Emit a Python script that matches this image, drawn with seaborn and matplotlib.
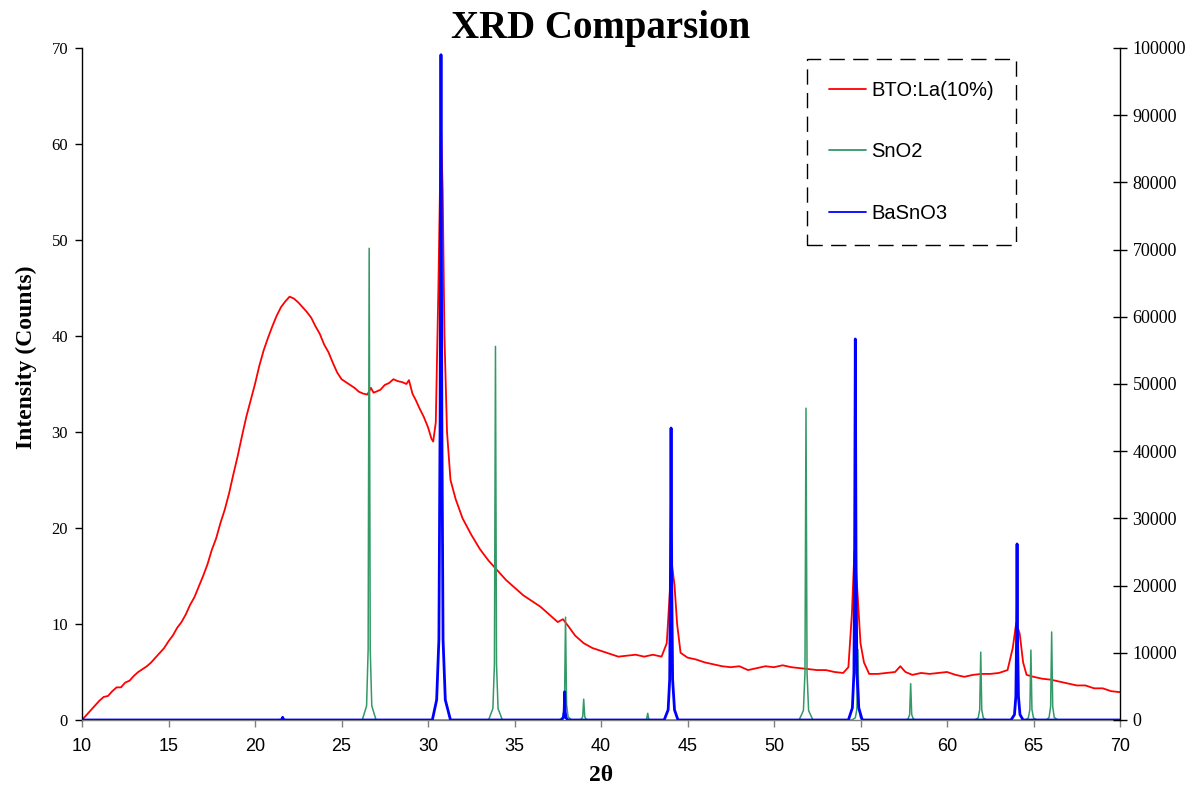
import matplotlib
matplotlib.use("Agg")
import matplotlib.pyplot as plt
import seaborn as sns
import pandas as pd

# ---------------- data ----------------
bto_x = [10.0, 10.25, 10.5, 10.75, 11.0, 11.25, 11.5, 11.75, 12.0, 12.25, 12.5, 12.75,
         13.0, 13.25, 13.5, 13.75, 14.0, 14.25, 14.5, 14.75, 15.0, 15.25, 15.5, 15.75,
         16.0, 16.25, 16.5, 16.75, 17.0, 17.25, 17.5, 17.75, 18.0, 18.25, 18.5, 18.75,
         19.0, 19.25, 19.5, 19.75, 20.0, 20.25, 20.5, 20.75, 21.0, 21.25, 21.5, 21.75,
         22.0, 22.25, 22.5, 22.75, 23.0, 23.25, 23.5, 23.75, 24.0, 24.25, 24.5, 24.75,
         25.0, 25.25, 25.5, 25.75, 26.0, 26.25, 26.5, 26.7, 26.85, 27.0, 27.25, 27.5,
         27.75, 28.0, 28.25, 28.5, 28.75, 28.9, 29.1, 29.3, 29.5, 29.75, 30.0, 30.2,
         30.3, 30.45, 30.6, 30.75, 30.85, 30.95, 31.1, 31.3, 31.6, 32.0, 32.5, 33.0,
         33.5, 34.0, 34.5, 35.0, 35.5, 36.0, 36.5, 37.0, 37.5, 37.8, 38.1, 38.5, 39.0, 39.5,
         40.0, 40.5, 41.0, 41.5, 42.0, 42.5, 43.0, 43.5, 43.8, 44.0, 44.1, 44.25, 44.4, 44.6,
         45.0, 45.5, 46.0, 46.5, 47.0, 47.5, 48.0, 48.5, 49.0, 49.5, 50.0, 50.5, 51.0, 51.5,
         52.0, 52.5, 53.0, 53.5, 54.0, 54.3, 54.5, 54.65, 54.8, 55.0, 55.2, 55.5, 56.0, 56.5,
         57.0, 57.3, 57.6, 58.0, 58.5, 59.0, 59.5, 60.0, 60.5, 61.0, 61.5, 62.0, 62.5, 63.0,
         63.5, 63.8, 64.0, 64.2, 64.4, 64.6, 65.0, 65.5, 66.0, 66.5, 67.0, 67.5, 68.0, 68.5,
         69.0, 69.5, 70.0]
bto_y = [0.0, 0.5, 1.0, 1.5, 2.0, 2.4, 2.5, 3.0, 3.4, 3.4, 3.9, 4.1,
         4.6, 5.0, 5.3, 5.6, 6.0, 6.5, 7.0, 7.5, 8.2, 8.8, 9.6, 10.2,
         11.0, 12.0, 12.8, 13.9, 15.0, 16.2, 17.7, 18.9, 20.5, 21.9, 23.6, 25.6,
         27.5, 29.6, 31.6, 33.3, 35.0, 36.9, 38.5, 39.8, 41.0, 42.1, 43.0, 43.6,
         44.1, 43.9, 43.5, 43.0, 42.5, 41.9, 41.0, 40.2, 39.1, 38.3, 37.2, 36.2,
         35.5, 35.2, 34.9, 34.6, 34.2, 34.0, 33.9, 34.6, 34.1, 34.2, 34.4, 34.9,
         35.1, 35.5, 35.3, 35.2, 35.0, 35.4, 34.0, 33.3, 32.5, 31.6, 30.5, 29.3,
         29.0, 31.0, 45.0, 62.0, 55.0, 40.0, 30.0, 25.0, 23.0, 21.0, 19.3, 17.8,
         16.6, 15.6, 14.6, 13.8, 13.0, 12.4, 11.8, 11.0, 10.2, 10.5, 9.8, 8.8, 8.0, 7.5,
         7.2, 6.9, 6.6, 6.7, 6.8, 6.6, 6.8, 6.6, 8.0, 14.0, 16.2, 14.0, 10.0, 7.0,
         6.5, 6.3, 6.0, 5.8, 5.6, 5.5, 5.6, 5.2, 5.4, 5.6, 5.5, 5.7, 5.5, 5.4,
         5.3, 5.2, 5.2, 5.0, 4.9, 5.5, 11.0, 17.6, 14.0, 8.0, 6.0, 4.8, 4.8, 4.9,
         5.0, 5.6, 5.0, 4.7, 4.9, 4.8, 4.9, 5.0, 4.7, 4.5, 4.7, 4.8, 4.8, 4.9,
         5.2, 7.5, 10.1, 9.0, 6.0, 4.7, 4.5, 4.3, 4.2, 4.0, 3.8, 3.6, 3.6, 3.3,
         3.3, 3.0, 2.9]

sno2_x = [10.0,
          26.2, 26.45, 26.54, 26.6, 26.66, 26.75, 27.0,
          33.5, 33.75, 33.84, 33.9, 33.96, 34.05, 34.3,
          37.6, 37.8, 37.89, 37.95, 38.01, 38.1, 38.3,
          38.7, 38.85, 38.94, 39.0, 39.06, 39.15, 39.3,
          42.5, 42.6, 42.64, 42.7, 42.76, 42.8, 42.9,
          51.45, 51.7, 51.79, 51.85, 51.91, 52.0, 52.25,
          54.5, 54.7, 54.79, 54.85, 54.91, 55.0, 55.2,
          57.6, 57.75, 57.84, 57.9, 57.96, 58.05, 58.2,
          61.6, 61.8, 61.89, 61.95, 62.01, 62.1, 62.3,
          64.55, 64.7, 64.79, 64.85, 64.91, 65.0, 65.2,
          65.75, 65.9, 65.99, 66.05, 66.11, 66.2, 66.4,
          70.0]
sno2_y = [0,
          0, 2100, 10500, 70200, 10500, 2100, 0,
          0, 1700, 8300, 55600, 8300, 1700, 0,
          0, 460, 2300, 15300, 2300, 460, 0,
          0, 90, 470, 3100, 470, 90, 0,
          0, 30, 150, 1000, 150, 30, 0,
          0, 1400, 7000, 46400, 7000, 1400, 0,
          0, 320, 1600, 10500, 1600, 320, 0,
          0, 160, 810, 5400, 810, 160, 0,
          0, 300, 1500, 10100, 1500, 300, 0,
          0, 310, 1560, 10400, 1560, 310, 0,
          0, 390, 2000, 13100, 2000, 390, 0,
          0]

basno3_x = [10.0,
            21.4, 21.55, 21.6, 21.65, 21.8,
            30.25, 30.5, 30.63, 30.7, 30.75, 30.8, 30.87, 31.0, 31.3,
            37.7, 37.82, 37.87, 37.9, 37.93, 37.98, 38.1,
            43.65, 43.88, 43.97, 44.01, 44.05, 44.09, 44.14, 44.25, 44.45,
            54.3, 54.53, 54.62, 54.66, 54.7, 54.74, 54.79, 54.9, 55.1,
            63.7, 63.9, 63.98, 64.02, 64.05, 64.08, 64.13, 64.22, 64.4,
            70.0]
basno3_y = [0,
            0, 60, 400, 60, 0,
            0, 3000, 12000, 45000, 99000, 45000, 12000, 3000, 0,
            0, 300, 1200, 4200, 1200, 300, 0,
            0, 1500, 6000, 20000, 43450, 20000, 6000, 1500, 0,
            0, 1800, 7000, 25000, 56700, 25000, 7000, 1800, 0,
            0, 800, 3500, 12000, 26200, 12000, 3500, 800, 0,
            0]

x_ticks = [10, 15, 20, 25, 30, 35, 40, 45, 50, 55, 60, 65, 70]
left_ticks = [0, 10, 20, 30, 40, 50, 60, 70]
right_ticks = [0, 10000, 20000, 30000, 40000, 50000, 60000, 70000, 80000, 90000, 100000]

labels = ["BTO:La(10%)", "SnO2", "BaSnO3"]
colors = ["#FF0000", "#339966", "#0000FF"]

# ---------------- plot ----------------
sns.set_style("ticks")
plt.rcParams["font.family"] = ["Liberation Serif", "DejaVu Serif"]
for k in ("text.color", "axes.labelcolor", "xtick.color", "ytick.color",
          "xtick.labelcolor", "ytick.labelcolor"):
    plt.rcParams[k] = "black"

fig = plt.figure(figsize=(11.9, 7.9), dpi=100)
ax = fig.add_axes([82 / 1190, 1 - 720 / 790, (1120 - 82) / 1190, (720 - 48) / 790])
ax2 = ax.twinx()

df_bto = pd.DataFrame({"x": bto_x, "y": bto_y})
df_sno2 = pd.DataFrame({"x": sno2_x, "y": sno2_y})
df_bas = pd.DataFrame({"x": basno3_x, "y": basno3_y})

sns.lineplot(data=df_bto, x="x", y="y", ax=ax, color=colors[0], lw=1.3,
             estimator=None, sort=False, label=labels[0], legend=False)
sns.lineplot(data=df_sno2, x="x", y="y", ax=ax2, color=colors[1], lw=1.1,
             estimator=None, sort=False, label=labels[1], legend=False)
sns.lineplot(data=df_bas, x="x", y="y", ax=ax2, color=colors[2], lw=2.0,
             estimator=None, sort=False, label=labels[2], legend=False)

ax.set_xlim(10, 70)
ax.set_ylim(0, 70)
ax2.set_ylim(0, 100000)
ax.set_xticks(x_ticks)
ax.set_yticks(left_ticks)
ax2.set_yticks(right_ticks)
ax2.set_yticklabels([str(v) for v in right_ticks])

for a in (ax, ax2):
    a.spines["top"].set_visible(False)
    a.spines["left"].set_color("black")
    a.spines["right"].set_color("black")
    a.spines["bottom"].set_color("#808080")
    for s in ("left", "right", "bottom"):
        a.spines[s].set_linewidth(1.0)
ax.spines["right"].set_visible(False)
ax2.spines["left"].set_visible(False)
ax2.spines["bottom"].set_visible(False)

ax.tick_params(axis="y", direction="out", length=5, width=1, color="black",
               labelcolor="black", labelsize=12, pad=5)
ax.tick_params(axis="x", direction="out", length=5, width=1, color="#808080",
               labelcolor="black", labelsize=13, pad=8)
for lab in ax.get_xticklabels():
    lab.set_family(["Liberation Sans", "DejaVu Sans"])
ax2.tick_params(axis="y", direction="inout", length=10, width=1, color="black",
                labelcolor="black", labelsize=13, pad=4)

ax.set_xlabel("2θ", fontsize=17, fontweight="bold", color="black")
ax.xaxis.set_label_coords(0.5, -0.067)
ax.xaxis.label.set_va("top")
ax.set_ylabel("Intensity (Counts)", fontsize=17, fontweight="bold", color="black")
ax.yaxis.set_label_coords(-0.0434, 0.540)
ax2.set_ylabel("")
fig.text(0.505, 1 - 38 / 790, "XRD Comparsion", ha="center", va="baseline",
         fontsize=28, fontweight="bold", color="black")

handles = ax.get_lines()[:1] + ax2.get_lines()[:2]
leg = ax2.legend(handles, labels, loc="upper left",
                 bbox_to_anchor=(807 / 1190, 1 - 59 / 790), bbox_transform=fig.transFigure,
                 prop={"family": ["Liberation Sans", "DejaVu Sans"], "size": 14.5},
                 frameon=True, fancybox=False, labelspacing=2.1, handlelength=1.85,
                 handletextpad=0.25, borderpad=1.1, borderaxespad=0)
for t in leg.get_texts():
    t.set_color("black")
fr = leg.get_frame()
fr.set_edgecolor("black")
fr.set_linewidth(1.0)
fr.set_linestyle((0, (11, 6)))
fr.set_facecolor("white")
fr.set_alpha(1)
for ln in leg.get_lines():
    ln.set_linewidth(1.3)

fig.savefig("out.png", dpi=100)
